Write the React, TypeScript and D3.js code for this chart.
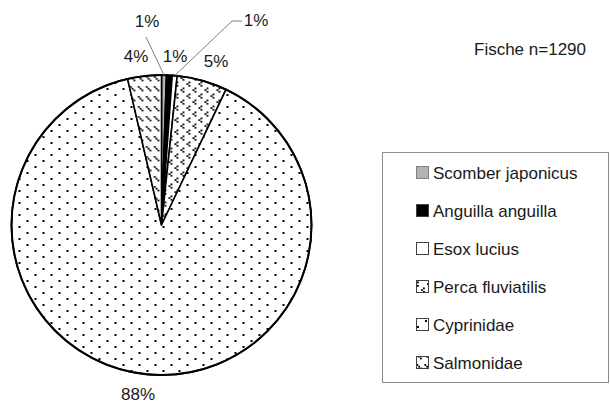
import * as d3 from "d3";

// species, shares of the pie, printed labels
const species = ["Scomber japonicus", "Anguilla anguilla", "Esox lucius", "Perca fluviatilis", "Cyprinidae", "Salmonidae"];
const shares = [0.53, 0.61, 0.53, 5.4, 89.3, 3.63];
const pctLabels = ["1%", "1%", "1%", "5%", "88%", "4%"];
const title = "Fische n=1290";

const fills = ["#b3b3b3", "#000000", "#ffffff", "url(#pPerca)", "url(#pCyp)", "url(#pSalmo)"];

const W = 610, H = 403;
const cx = 161.5, cy = 225, R = 150;
const font = "Liberation Sans, Arial, sans-serif";
const fs = 17;

function App() {
    const pie = d3.pie<number>().sort(null).value((d) => d).startAngle(0).endAngle(2 * Math.PI);
    const arcs = pie(shares);
    const arc = d3.arc<d3.PieArcDatum<number>>().innerRadius(0).outerRadius(R);

    // label anchor positions (relative to the pie centre), x = text centre, y = baseline
    const labelPos: [number, number][] = [
        [147 - cx, 27 - cy],
        [175 - cx, 62 - cy],
        [256 - cx, 26 - cy],
        [216 - cx, 67 - cy],
        [138 - cx, 400 - cy],
        [136 - cx, 62 - cy],
    ];

    const legendY = d3.scalePoint().domain(species).range([173, 363]);

    return (
        <svg width={W} height={H} style={{ position: "absolute", left: 0, top: 0, background: "#ffffff" }}>
            <defs>
                <pattern id="pCyp" width={16} height={12} patternUnits="userSpaceOnUse">
                    <rect width={16} height={12} fill="#fff" />
                    <rect x={1} y={1} width={2} height={2} fill="#000" />
                    <rect x={9} y={7} width={2} height={2} fill="#000" />
                </pattern>
                <pattern id="pPerca" width={12} height={12} patternUnits="userSpaceOnUse">
                    <rect width={12} height={12} fill="#fff" />
                    <rect x={3} y={0.5} width={1.8} height={1.8} fill="#000" />
                    <rect x={1} y={2.2} width={1.8} height={1.8} fill="#000" />
                    <rect x={3} y={3.9} width={1.8} height={1.8} fill="#000" />
                    <rect x={9} y={6.5} width={1.8} height={1.8} fill="#000" />
                    <rect x={7} y={8.2} width={1.8} height={1.8} fill="#000" />
                    <rect x={9} y={9.9} width={1.8} height={1.8} fill="#000" />
                </pattern>
                <pattern id="pSalmo" width={8} height={10} patternUnits="userSpaceOnUse">
                    <rect width={8} height={10} fill="#fff" />
                    <rect x={0.4} y={1} width={1.8} height={1.8} fill="#000" />
                    <rect x={2.2} y={2.8} width={1.8} height={1.8} fill="#000" />
                    <rect x={4} y={4.6} width={1.8} height={1.8} fill="#000" />
                </pattern>
            </defs>

            <g transform={`translate(${cx},${cy})`}>
                {arcs.map((a, i) => (
                    <path key={species[i]} d={arc(a)!} fill={fills[i]} stroke="#000" strokeWidth={1.6} strokeLinejoin="round" />
                ))}
                <circle r={R} fill="none" stroke="#000" strokeWidth={2} />

                {/* leader lines for the two outer 1% labels */}
                {[0, 2].map((i) => {
                    const mid = (arcs[i].startAngle + arcs[i].endAngle) / 2;
                    const ex = Math.sin(mid) * R, ey = -Math.cos(mid) * R;
                    const pts = i === 0
                        ? [[ex, ey], [146 - cx, 37 - cy]]
                        : [[ex, ey], [232 - cx, 21 - cy], [242 - cx, 21 - cy]];
                    return <path key={i} d={d3.line()(pts as [number, number][])!} fill="none" stroke="#7f7f7f" strokeWidth={1} />;
                })}

                {pctLabels.map((t, i) => (
                    <text key={i} x={labelPos[i][0]} y={labelPos[i][1]} textAnchor="middle" fontFamily={font} fontSize={fs} fill="#1a1a1a">{t}</text>
                ))}
            </g>

            <text x={474} y={55} fontFamily={font} fontSize={fs} fill="#1a1a1a">{title}</text>

            <rect x={382.5} y={152.5} width={226} height={230} fill="#fff" stroke="#8c8c8c" strokeWidth={1} />
            {species.map((s, i) => (
                <g key={s} transform={`translate(0,${legendY(s)})`}>
                    <rect x={416.5} y={-6.5} width={12} height={12} fill={fills[i]} stroke={i === 0 ? "#808080" : "#404040"} strokeWidth={1} />
                    <text x={433} y={6} fontFamily={font} fontSize={fs} fill="#1a1a1a">{s}</text>
                </g>
            ))}
        </svg>
    );
}

export default App;
